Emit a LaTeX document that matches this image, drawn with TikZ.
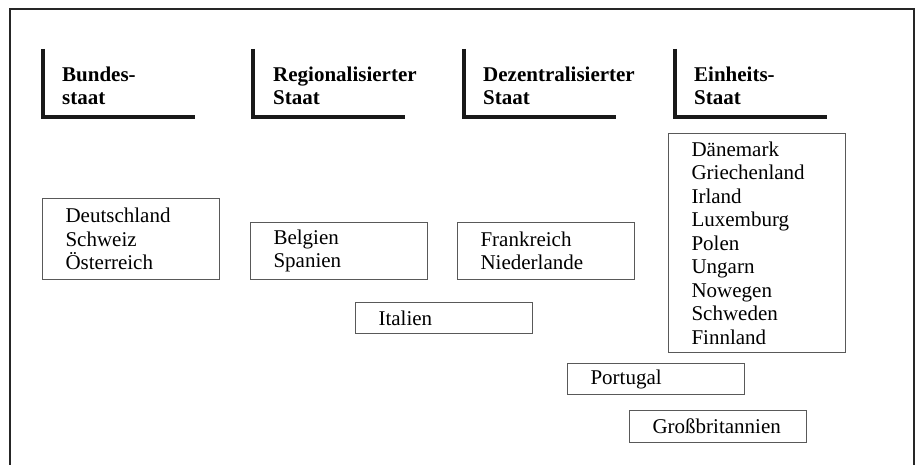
\documentclass[tikz,border=0pt]{standalone}
\usepackage{fontspec}
\setmainfont{Liberation Serif}
\usetikzlibrary{positioning}

\tikzset{
  rahmen/.style={line width=2.5pt, draw=black!85},
  kopf/.style={line width=3.5pt, draw=black!90},
  kopftext/.style={anchor=base west, inner sep=0pt, align=left,
    font=\bfseries\fontsize{21}{23}\selectfont},
  laender/.style={draw=black!65, line width=1.1pt, anchor=north west,
    minimum width=177pt, text width=131pt, inner xsep=23pt, inner ysep=0pt,
    align=left, font=\fontsize{21}{23.5}\selectfont}
}

\begin{document}
\begin{tikzpicture}[x=1pt,y=-1pt]
\useasboundingbox (0,0) rectangle (919,465);

% aeusserer Rahmen, unten offen
\draw[rahmen] (10,465) -- (10,9) -- (914,9) -- (914,465);

% Spaltenkoepfe
\foreach \x in {43,253,464,675}
  \draw[kopf] (\x,49) |- ++(152,68);

\node[kopftext] (kbund)    at (62,105)  {Bundes-\\staat};
\node[kopftext] (kregio)   at (273,105) {Regionalisierter\\Staat};
\node[kopftext] (kdezent)  at (483,105) {Dezentralisierter\\Staat};
\node[kopftext] (keinheit) at (694,105) {Einheits-\\Staat};

% Laendergruppen
\node[laender, minimum height=81pt]  (bund)    at (42,198)  {Deutschland\\Schweiz\\Österreich};
\node[laender, minimum height=57pt]  (regio)   at (250,222) {Belgien\\Spanien};
\node[laender, minimum height=57pt]  (dezent)  at (457,222) {Frankreich\\Niederlande};
\node[laender, minimum height=31pt]  (ital)    at (355,302) {Italien};
\node[laender, minimum height=219pt] (einheit) at (668,133)
  {Dänemark\\Griechenland\\Irland\\Luxemburg\\Polen\\Ungarn\\Nowegen\\Schweden\\Finnland};
\node[laender, minimum height=31pt]  (portu)   at (567,363) {Portugal};
\node[laender, minimum height=32pt]  (gb)      at (629,410) {Großbritannien};
\end{tikzpicture}
\end{document}
